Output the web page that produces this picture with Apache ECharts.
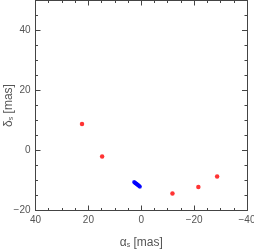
<!DOCTYPE html>
<html><head><meta charset="utf-8">
<script src="https://cdn.jsdelivr.net/npm/echarts@6/dist/echarts.min.js"></script>
<style>html,body{margin:0;padding:0;background:#fff}#c{width:254px;height:249px}</style>
</head><body><div id="c"></div>
<script>
// Red points (alpha_s, delta_s) in mas
const redAlpha = [22.4, 14.8, -11.8, -21.6, -28.7];
const redDelta = [8.8, -2.0, -14.3, -12.2, -8.7];
// Blue track points
const blueAlpha = [2.7, 2.5, 2.3, 2.1, 1.9, 1.7, 1.5, 1.3, 1.1, 0.9, 0.7, 0.5];
const blueDelta = [-10.5, -10.65, -10.8, -10.9, -11.05, -11.2, -11.35, -11.5, -11.6, -11.75, -11.9, -12.1];
const xTicks = [40, 20, 0, -20, -40];
const yTicks = [-20, 0, 20, 40];

const red = redAlpha.map((a, i) => [a, redDelta[i]]);
const blue = blueAlpha.map((a, i) => [a, blueDelta[i]]);

const font = 'Liberation Sans, Arial, sans-serif';
const lc = '#444';
const tc = '#555';
function fmt(v){ return v < 0 ? '\u2212' + Math.abs(v) : String(v); }

const baseAxis = {
  axisLine: {show: true, onZero: false, lineStyle: {color: lc, width: 1}},
  axisTick: {show: true, inside: true, length: 5, lineStyle: {color: lc}},
  minorTick: {show: true, splitNumber: 4, length: 2.5, lineStyle: {color: lc}},
  splitLine: {show: false},
  minorSplitLine: {show: false}
};
const rich = {
  g: {fontFamily: font, fontSize: 12, color: tc},
  s: {fontFamily: font, fontSize: 7, color: tc, padding: [6, 0, 0, 0], lineHeight: 7}
};

const chart = echarts.init(document.getElementById('c'), null, {renderer: 'canvas'});
chart.setOption({
  animation: false,
  grid: {left: 35.5, right: 7, top: 0.5, bottom: 38.5, containLabel: false, outerBoundsMode: 'none'},
  xAxis: [
    Object.assign({}, baseAxis, {
      type: 'value', position: 'bottom', inverse: true, min: -40, max: 40, interval: 20,
      axisLabel: {show: true, fontFamily: font, fontSize: 10, color: tc, margin: 5,
        formatter: v => xTicks.includes(v) ? fmt(v) : ''},
      name: '{g|\u03b1}{s|s}{g| [mas]}',
      nameLocation: 'middle', nameGap: 26, nameMoveOverlap: false,
      nameTextStyle: {rich: rich}
    }),
    Object.assign({}, baseAxis, {
      type: 'value', position: 'top', inverse: true, min: -40, max: 40, interval: 20,
      axisLabel: {show: false}
    })
  ],
  yAxis: [
    Object.assign({}, baseAxis, {
      type: 'value', position: 'left', min: -20, max: 50, interval: 20,
      axisLabel: {show: true, fontFamily: font, fontSize: 10, color: tc, margin: 5,
        formatter: v => yTicks.includes(v) ? fmt(v) : ''},
      name: '{g|\u03b4}{s|s}{g| [mas]}',
      nameLocation: 'middle', nameGap: 21, nameRotate: 90, nameMoveOverlap: false,
      nameTextStyle: {rich: rich}
    }),
    Object.assign({}, baseAxis, {
      type: 'value', position: 'right', min: -20, max: 50, interval: 20,
      axisLabel: {show: false}
    })
  ],
  series: [
    {type: 'scatter', data: blue, symbol: 'circle', symbolSize: 4,
     itemStyle: {color: '#0000ff'}, xAxisIndex: 0, yAxisIndex: 0},
    {type: 'scatter', data: red, symbol: 'circle', symbolSize: 4.5,
     itemStyle: {color: '#ff0000'}, xAxisIndex: 0, yAxisIndex: 0}
  ]
});
</script></body></html>
